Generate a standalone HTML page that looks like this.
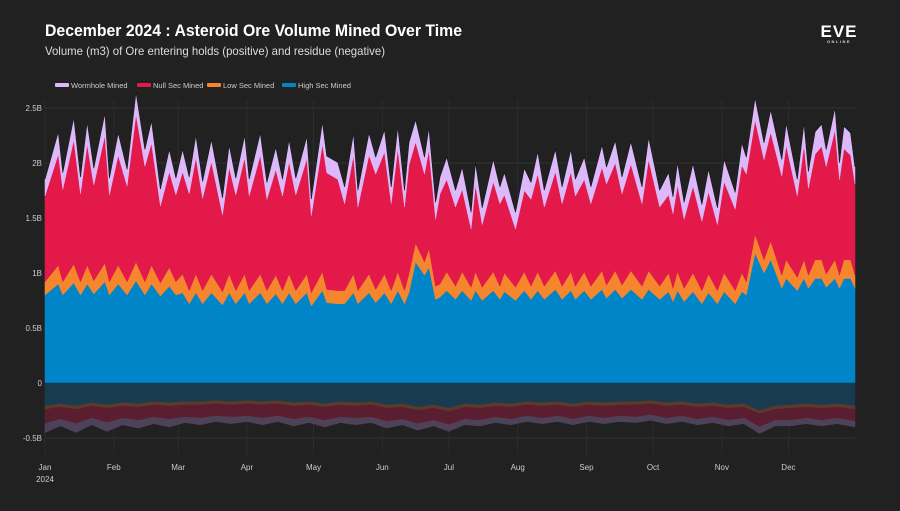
<!DOCTYPE html>
<html><head><meta charset="utf-8">
<style>
html,body{margin:0;padding:0;background:#212121;}
body{width:900px;height:506px;overflow:hidden;font-family:"Liberation Sans",sans-serif;}
svg text{font-family:"Liberation Sans",sans-serif;}
</style></head>
<body>
<svg id="chart" width="900" height="506" viewBox="0 0 900 506">
<rect x="0" y="0" width="900" height="506" fill="#212121"/>
<text x="45" y="36" fill="#ffffff" font-size="17" font-weight="bold" textLength="417" lengthAdjust="spacingAndGlyphs">December 2024 : Asteroid Ore Volume Mined Over Time</text>
<text x="45" y="55" fill="#dddddd" font-size="12" textLength="340" lengthAdjust="spacingAndGlyphs">Volume (m3) of Ore entering holds (positive) and residue (negative)</text>
<g>
<text x="839" y="37" fill="#ffffff" font-size="17" font-weight="bold" text-anchor="middle" letter-spacing="1">EVE</text>
<text x="839" y="43" fill="#dddddd" font-size="4" font-weight="bold" text-anchor="middle" letter-spacing="1.5">ONLINE</text>
</g>
<g id="grid"></g>
<g id="areas"></g>
<g id="axes"></g>
<g id="legend"></g>
</svg>
<script>
const days = [0,6,8,13,16,19,22,27,29,33,37,41,45,48,52,56,59,
62,65,68,71,75,80,83,86,90,92,97,100,104,107,110,113,118,120,125,127,132,135,139,141,146,149,153,156,159,162,164,
167,171,173,
176,178,181,185,188,192,194,197,202,205,207,212,216,219,222,225,230,233,237,239,243,246,251,253,257,260,264,269,272,277,281,283,285,288,292,296,299,
303,306,311,314,316,
320,324,327,
332,334,339,342,344,347,350,352,356,358,360,363,365];
const highSec = [.80,.90,.80,.91,.80,.90,.81,.92,.80,.90,.80,.93,.80,.90,.79,.88,.80,
.82,.72,.82,.72,.82,.71,.82,.72,.82,.72,.82,.72,.81,.72,.82,.72,.82,.70,.84,.73,.72,.72,.82,.72,.82,.73,.82,.72,.84,.72,.82,
1.10,.98,1.05,
.76,.78,.84,.76,.84,.75,.84,.75,.84,.76,.83,.75,.84,.76,.84,.76,.85,.76,.84,.76,.84,.76,.85,.77,.85,.77,.85,.76,.85,.76,.83,.74,.84,.74,.83,.72,.82,
.72,.83,.72,.83,.80,
1.18,1.00,1.12,
.86,.95,.84,.95,.86,.95,.95,.87,.95,.86,.95,.95,.86];
const lowSec = [.12,.17,.12,.17,.12,.17,.12,.17,.12,.17,.12,.17,.12,.17,.12,.17,.12,
.17,.12,.17,.12,.17,.12,.17,.12,.17,.12,.17,.12,.17,.12,.17,.12,.17,.12,.17,.12,.12,.12,.17,.12,.17,.12,.17,.12,.17,.12,.17,
.17,.12,.17,
.12,.12,.17,.12,.17,.12,.17,.12,.17,.12,.17,.12,.17,.12,.17,.12,.17,.12,.17,.12,.17,.12,.17,.12,.17,.12,.17,.12,.17,.12,.17,.12,.17,.12,.17,.12,.17,
.12,.17,.12,.17,.12,
.17,.12,.17,
.12,.17,.12,.17,.12,.17,.17,.12,.17,.12,.17,.17,.12];
const nullSec = [.78,1.01,.84,1.13,.80,1.10,.87,1.16,.79,1.00,.87,1.34,1.05,1.11,.70,.87,.79,
.93,.88,1.06,.84,1.02,.70,.97,.87,1.06,.86,1.08,.83,.96,.86,1.02,.87,1.05,.70,1.16,1.06,1.01,.79,1.08,.76,1.08,1.05,1.11,.79,1.12,.76,.99,
.92,.80,.90,
.61,.82,.84,.72,.75,.53,.79,.57,.82,.75,.71,.53,.74,.79,.89,.72,.90,.75,.91,.82,.84,.75,.94,.92,.98,.83,.97,.75,1.01,.72,.71,.68,.79,.63,.79,.63,.75,
.60,.83,.74,.98,.98,
1.04,.91,.99,
.90,1.04,.74,1.04,.79,.96,1.03,.98,1.18,.87,1.01,.95,.83];
const wormhole = [.15,.20,.15,.20,.15,.20,.15,.20,.15,.20,.15,.20,.15,.20,.15,.20,.15,
.20,.15,.20,.15,.20,.15,.20,.15,.20,.15,.20,.15,.20,.15,.20,.15,.20,.15,.20,.15,.15,.15,.20,.15,.20,.15,.20,.15,.20,.15,.20,
.20,.15,.20,
.15,.15,.20,.15,.20,.15,.20,.15,.20,.15,.20,.15,.20,.15,.20,.15,.20,.15,.20,.15,.20,.15,.20,.15,.20,.15,.20,.15,.20,.15,.20,.15,.20,.15,.20,.15,.20,
.15,.20,.15,.20,.15,
.20,.15,.20,
.15,.20,.15,.20,.15,.20,.20,.15,.20,.15,.20,.20,.15];
// residue (negative)
const negDays = [0,7,14,21,28,35,42,49,56,63,70,77,84,91,98,105,112,119,126,133,140,147,154,161,168,175,182,189,196,203,210,217,224,231,238,245,252,259,266,273,280,287,294,301,308,315,322,329,336,343,350,357,365];
const highRes = [-.21,-.19,-.21,-.18,-.20,-.18,-.19,-.17,-.18,-.17,-.17,-.16,-.17,-.16,-.17,-.16,-.18,-.17,-.19,-.17,-.18,-.17,-.20,-.19,-.22,-.20,-.23,-.19,-.20,-.18,-.19,-.17,-.18,-.17,-.19,-.17,-.18,-.17,-.17,-.16,-.18,-.17,-.19,-.18,-.20,-.19,-.25,-.21,-.20,-.19,-.20,-.19,-.21];
const lowRes = [-.03,-.03,-.03,-.03,-.03,-.03,-.03,-.03,-.03,-.03,-.03,-.03,-.03,-.03,-.03,-.03,-.03,-.03,-.03,-.03,-.03,-.03,-.03,-.03,-.03,-.03,-.03,-.03,-.03,-.03,-.03,-.03,-.03,-.03,-.03,-.03,-.03,-.03,-.03,-.03,-.03,-.03,-.03,-.03,-.03,-.03,-.03,-.03,-.03,-.03,-.03,-.03,-.03];
const nullRes = [-.13,-.11,-.13,-.11,-.13,-.11,-.12,-.11,-.12,-.11,-.12,-.11,-.11,-.11,-.12,-.11,-.12,-.11,-.12,-.11,-.11,-.11,-.12,-.11,-.12,-.11,-.12,-.11,-.11,-.10,-.11,-.10,-.11,-.10,-.11,-.10,-.11,-.10,-.11,-.10,-.11,-.10,-.11,-.10,-.11,-.10,-.12,-.10,-.11,-.10,-.11,-.10,-.11];
const whRes = [-.08,-.06,-.08,-.06,-.08,-.06,-.07,-.06,-.07,-.05,-.06,-.05,-.06,-.05,-.06,-.05,-.06,-.05,-.06,-.05,-.06,-.05,-.06,-.05,-.06,-.05,-.06,-.05,-.05,-.05,-.05,-.05,-.05,-.05,-.05,-.05,-.05,-.05,-.05,-.05,-.05,-.05,-.05,-.05,-.05,-.05,-.06,-.05,-.05,-.05,-.05,-.05,-.05];
const yTicks = [2.5,2,1.5,1,0.5,0,-0.5];
const yTickLabels = ["2.5B","2B","1.5B","1B","0.5B","0","-0.5B"];
const monthDays = [0,31,60,91,121,152,182,213,244,274,305,335];
const monthLabels = ["Jan","Feb","Mar","Apr","May","Jun","Jul","Aug","Sep","Oct","Nov","Dec"];
const legendNames = ["Wormhole Mined","Null Sec Mined","Low Sec Mined","High Sec Mined"];

const NS="http://www.w3.org/2000/svg";
const X0=45,X1=855,Y0=383,PXB=110;
const xs=d=>X0+(X1-X0)*d/365;
const ys=v=>Y0-v*PXB;
function mk(tag,attrs,parent){const e=document.createElementNS(NS,tag);for(const k in attrs)e.setAttribute(k,attrs[k]);parent.appendChild(e);return e;}
const grid=document.getElementById('grid'),areas=document.getElementById('areas'),axes=document.getElementById('axes'),legend=document.getElementById('legend');
yTicks.forEach((t,i)=>{
  if(t!==0){const l=mk('line',{x1:X0,x2:X1,y1:ys(t),y2:ys(t),stroke:'#333',"stroke-width":1},grid);
  
  }
  const tx=mk('text',{x:42,y:ys(t)+3,fill:'#cccccc',"font-size":8,"text-anchor":"end"},axes);
  tx.textContent=yTickLabels[i];
  
  
});
monthDays.forEach((d,i)=>{
  const l=mk('line',{x1:xs(d),x2:xs(d),y1:100,y2:455,stroke:'#2c2c2c',"stroke-width":1},grid);
  
  
  const tx=mk('text',{x:xs(d),y:470,fill:'#cccccc',"font-size":8,"text-anchor":"middle"},axes);
  tx.textContent=monthLabels[i];
  
  
});
const yr=mk('text',{x:xs(0),y:482,fill:'#cccccc',"font-size":8,"text-anchor":"middle"},axes);
yr.textContent="2024";



function band(dArr,lower,upper,color,name){
  let p='M'+dArr.map((d,i)=>xs(d).toFixed(1)+','+ys(upper[i]).toFixed(1)).join('L');
  for(let i=dArr.length-1;i>=0;i--)p+='L'+xs(dArr[i]).toFixed(1)+','+ys(lower[i]).toFixed(1);
  p+='Z';
  const e=mk('path',{d:p,fill:color,stroke:color,"stroke-width":0.5,"stroke-linejoin":"round"},areas);
  
  
}
function cum(arrs){const out=[];let acc=arrs[0].map(()=>0);out.push(acc.slice());arrs.forEach(a=>{acc=acc.map((v,i)=>v+a[i]);out.push(acc.slice());});return out;}
const pos=cum([highSec,lowSec,nullSec,wormhole]);
band(days,pos[0],pos[1],'#0085c8','high-sec-area');
band(days,pos[1],pos[2],'#f5862e','low-sec-area');
band(days,pos[2],pos[3],'#e3194a','null-sec-area');
band(days,pos[3],pos[4],'#dcb9fb','wormhole-area');
const topLine=mk('path',{d:'M'+days.map((d,i)=>xs(d).toFixed(1)+','+(ys(pos[4][i])-0.5).toFixed(1)).join('L'),fill:'none',stroke:'#151515',"stroke-width":0.7,"stroke-linejoin":"round"},areas);


const neg=cum([highRes,lowRes,nullRes,whRes]);
band(negDays,neg[0],neg[1],'#183b50','high-sec-residue-area');
band(negDays,neg[1],neg[2],'#5b3a2a','low-sec-residue-area');
band(negDays,neg[2],neg[3],'#5a1e30','null-sec-residue-area');
band(negDays,neg[3],neg[4],'#4e4258','wormhole-residue-area');

const lcolors=['#dcb9fb','#e3194a','#f5862e','#0085c8'];
const lx=[55,137,207,282];
legendNames.forEach((n,i)=>{
  const g=mk('g',{},legend);
  
  
  mk('rect',{x:lx[i],y:83,width:14,height:4,fill:lcolors[i],rx:1},g);
  const t=mk('text',{x:lx[i]+16,y:88,fill:'#cccccc',"font-size":7.5},g);
  t.textContent=n;
});
</script>
</body></html>
